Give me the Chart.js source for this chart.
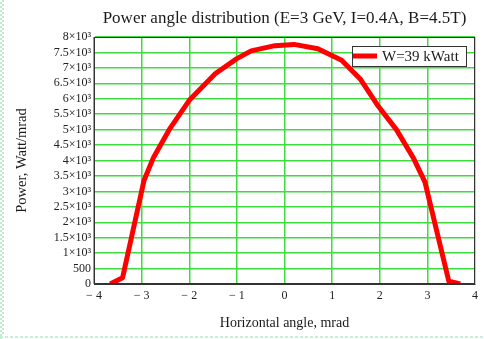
<!DOCTYPE html>
<html>
<head>
<meta charset="utf-8">
<script src="https://cdn.jsdelivr.net/npm/chart.js@4.4.1/dist/chart.umd.min.js"></script>
<style>
    html, body { margin: 0; padding: 0; background: #fff; }
    #wrap { position: relative; width: 484px; height: 339px; }
    #edgeLeft {
        position: absolute; left: 0; top: 0; width: 4px; height: 339px;
        background: repeating-conic-gradient(#bfeccd 0 25%, #ffffff 0 50%) 0 0 / 4px 4px;
    }
    #edgeBottom {
        position: absolute; left: 0; top: 336px; width: 484px; height: 2px;
        background: repeating-linear-gradient(90deg, #c6efd4 0 3px, #ffffff 3px 5px);
    }
</style>
</head>
<body>
<div id="wrap">
    <canvas id="powerChart" width="484" height="339"></canvas>
    <div id="edgeLeft"></div>
    <div id="edgeBottom"></div>
</div>
<script>
// Horizontal angle (mrad) and radiated power (Watt/mrad)
const angles = [-3.66, -3.4, -2.95, -2.75, -2.4, -2.0, -1.45, -1.0, -0.7, -0.2, 0.2, 0.7, 1.2, 1.6, 1.95, 2.35, 2.7, 2.95, 3.45, 3.69];
const power  = [0, 200, 3350, 4100, 5050, 5950, 6820, 7300, 7550, 7720, 7760, 7620, 7250, 6620, 5800, 5000, 4100, 3300, 90, 0];

const seriesLabel = 'W=39 kWatt';
const chartTitle = 'Power angle distribution (E=3 GeV, I=0.4A, B=4.5T)';
const xTitle = 'Horizontal angle, mrad';
const yTitle = 'Power, Watt/mrad';

const xMin = -4, xMax = 4, xStep = 1;
const yMin = 0, yMax = 8000, yStep = 500;

const SERIF = "'Liberation Serif', 'Times New Roman', serif";
const GRID = '#3fdc3f';

function yTickLabel(v) {
    if (v === 0) return '0';
    if (v < 1000) return String(v);
    return (v / 1000) + '×10³';
}

function xTickLabel(v) {
    return v < 0 ? '− ' + Math.abs(v) : String(v);
}

// Title centred over the plot area, not the whole canvas
const titlePlugin = {
    id: 'plotTitle',
    afterDraw(chart) {
        const { ctx, chartArea } = chart;
        ctx.save();
        ctx.font = '17px ' + SERIF;
        ctx.fillStyle = '#1a1a1a';
        ctx.textAlign = 'center';
        ctx.textBaseline = 'middle';
        ctx.fillText(chartTitle, (chartArea.left + chartArea.right) / 2, 19);
        ctx.restore();
    }
};

// Boxed legend sitting inside the top-right corner of the plot
const boxLegend = {
    id: 'boxLegend',
    afterDatasetsDraw(chart) {
        const { ctx, chartArea } = chart;
        const ds = chart.data.datasets[0];
        const w = 114, h = 20;
        const x = chartArea.right - 9 - w;
        const y = chartArea.top + 9;
        ctx.save();
        ctx.fillStyle = '#fff';
        ctx.fillRect(x, y, w, h);
        ctx.strokeStyle = '#333';
        ctx.lineWidth = 1;
        ctx.strokeRect(x + 0.5, y + 0.5, w, h);
        ctx.strokeStyle = ds.borderColor;
        ctx.lineWidth = 5;
        ctx.beginPath();
        ctx.moveTo(x + 1, y + h / 2);
        ctx.lineTo(x + 25, y + h / 2);
        ctx.stroke();
        ctx.font = '15px ' + SERIF;
        ctx.fillStyle = '#1a1a1a';
        ctx.textBaseline = 'middle';
        ctx.fillText(ds.label, x + 30, y + h / 2 + 1);
        ctx.restore();
    }
};

new Chart(document.getElementById('powerChart'), {
    type: 'line',
    data: {
        datasets: [{
            label: seriesLabel,
            data: angles.map((a, i) => ({ x: a, y: power[i] })),
            borderColor: '#ff0000',
            borderWidth: 5,
            borderJoinStyle: 'round',
            borderCapStyle: 'butt',
            pointRadius: 0,
            tension: 0,
            fill: false
        }]
    },
    options: {
        responsive: false,
        animation: false,
        layout: { padding: { top: 37, right: 9, bottom: 0, left: 0 } },
        plugins: {
            legend: { display: false },
            title: { display: false },
            tooltip: { enabled: false }
        },
        scales: {
            x: {
                type: 'linear',
                min: xMin,
                max: xMax,
                afterFit(scale) { scale.height = 55; },
                afterBuildTicks(scale) {
                    const t = [];
                    for (let v = xMin; v <= xMax; v += xStep) t.push({ value: v });
                    scale.ticks = t;
                },
                grid: { color: GRID, lineWidth: 1.5, drawTicks: false },
                border: { color: '#333', width: 1 },
                ticks: {
                    padding: 5,
                    maxRotation: 0,
                    autoSkip: false,
                    color: '#222',
                    font: { family: SERIF, size: 12 },
                    callback: xTickLabel
                },
                title: {
                    display: true,
                    text: xTitle,
                    color: '#1a1a1a',
                    font: { family: SERIF, size: 14 },
                    padding: { top: 0, bottom: 7 }
                }
            },
            y: {
                min: yMin,
                max: yMax,
                afterFit(scale) { scale.width = 94; },
                afterBuildTicks(scale) {
                    const t = [];
                    for (let v = yMin; v <= yMax; v += yStep) t.push({ value: v });
                    scale.ticks = t;
                },
                grid: { color: GRID, lineWidth: 1.5, drawTicks: false },
                border: { color: '#333', width: 1 },
                ticks: {
                    padding: 3,
                    autoSkip: false,
                    color: '#222',
                    font: { family: SERIF, size: 12 },
                    callback: yTickLabel
                },
                title: {
                    display: true,
                    text: yTitle,
                    color: '#1a1a1a',
                    font: { family: SERIF, size: 14.5 },
                    padding: { top: 13, bottom: 0 }
                }
            }
        }
    },
    plugins: [titlePlugin, boxLegend, {
        // dark frame round the plot area
        id: 'frame',
        afterDraw(chart) {
            const { ctx, chartArea: a } = chart;
            ctx.save();
            ctx.strokeStyle = '#333';
            ctx.lineWidth = 1;
            ctx.strokeRect(a.left + 0.5, a.top + 0.5, a.right - a.left - 1, a.bottom - a.top - 1);
            ctx.restore();
        }
    }]
});
</script>
</body>
</html>
